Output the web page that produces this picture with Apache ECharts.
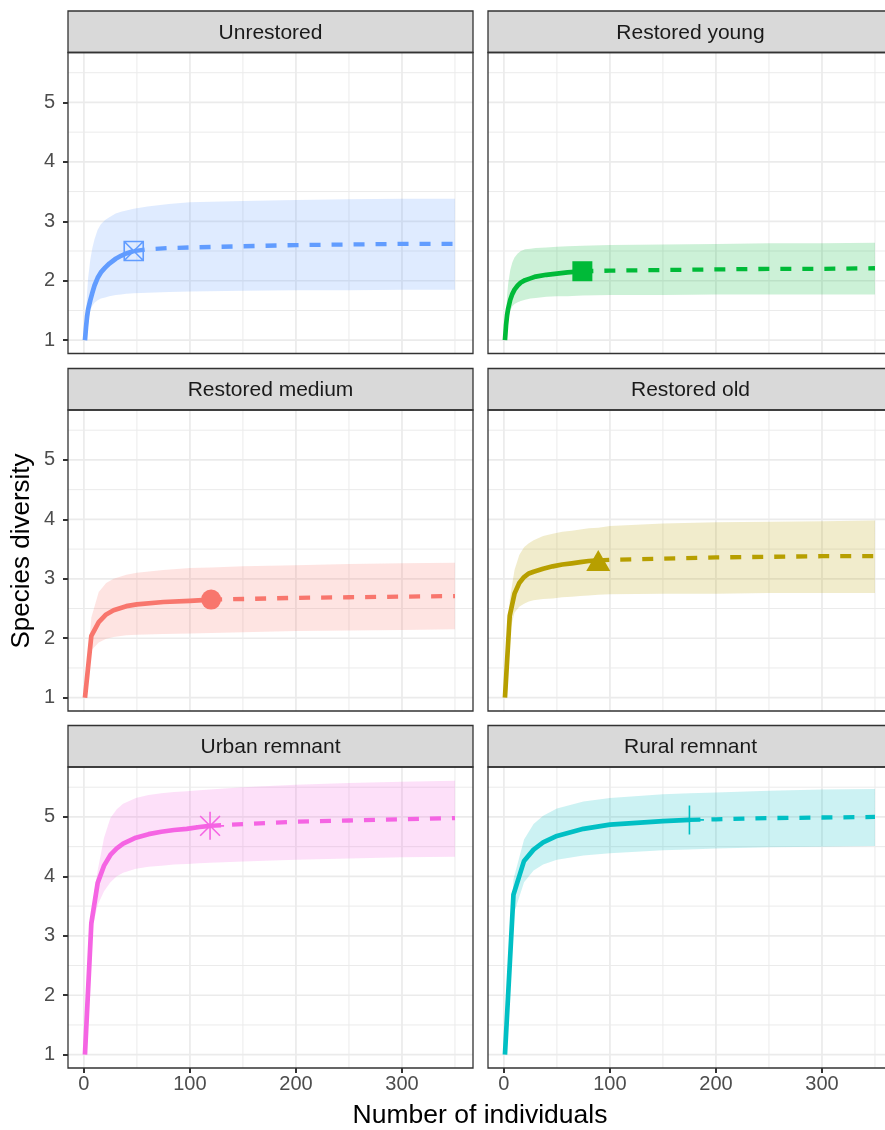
<!DOCTYPE html>
<html>
<head>
<meta charset="utf-8">
<script src="https://cdn.jsdelivr.net/npm/echarts@6/dist/echarts.min.js"></script>
<style>
html,body{margin:0;padding:0;background:#fff;overflow:hidden;}
#chart{width:900px;height:1130px;}
</style>
</head>
<body>
<div id="chart"></div>
<script>
// ---------- DATA ----------
const groupNames = ['Unrestored', 'Restored young', 'Restored medium', 'Restored old', 'Urban remnant', 'Rural remnant'];
const groupColors = ['#619CFF', '#00BA38', '#F8766D', '#B79F00', '#F564E3', '#00BFC4'];
const observedN = [47, 74, 120, 89, 119, 175];

// x: number of individuals; y: diversity estimate; lo/hi: confidence band
const unrestoredX  = [1, 2, 3, 4, 6, 8, 10, 13, 16, 20, 24, 30, 35, 40, 47, 60, 80, 100, 150, 200, 250, 300, 350];
const unrestoredY  = [1.00, 1.22, 1.40, 1.52, 1.67, 1.80, 1.92, 2.05, 2.14, 2.22, 2.29, 2.37, 2.42, 2.46, 2.50, 2.53, 2.55, 2.56, 2.58, 2.60, 2.61, 2.62, 2.62];
const unrestoredLo = [1.00, 1.05, 1.15, 1.28, 1.50, 1.58, 1.63, 1.67, 1.70, 1.72, 1.74, 1.76, 1.77, 1.78, 1.79, 1.80, 1.81, 1.82, 1.83, 1.84, 1.84, 1.85, 1.85];
const unrestoredHi = [1.00, 1.45, 1.80, 2.05, 2.35, 2.55, 2.70, 2.86, 2.95, 3.02, 3.07, 3.13, 3.16, 3.18, 3.21, 3.25, 3.29, 3.32, 3.34, 3.36, 3.37, 3.38, 3.38];

const youngX  = [1, 2, 3, 4, 6, 8, 10, 13, 16, 20, 25, 30, 40, 50, 60, 74, 100, 150, 200, 250, 300, 350];
const youngY  = [1.00, 1.25, 1.42, 1.53, 1.68, 1.78, 1.85, 1.92, 1.97, 2.01, 2.04, 2.07, 2.10, 2.12, 2.14, 2.16, 2.17, 2.18, 2.19, 2.20, 2.20, 2.21];
const youngLo = [1.00, 1.08, 1.20, 1.32, 1.50, 1.57, 1.61, 1.64, 1.66, 1.68, 1.70, 1.71, 1.73, 1.74, 1.74, 1.75, 1.76, 1.76, 1.77, 1.77, 1.77, 1.77];
const youngHi = [1.00, 1.45, 1.75, 1.95, 2.18, 2.31, 2.39, 2.46, 2.50, 2.53, 2.54, 2.55, 2.56, 2.57, 2.58, 2.59, 2.60, 2.61, 2.62, 2.63, 2.63, 2.64];

const mediumX  = [1, 7, 14, 21, 28, 40, 50, 75, 100, 120, 150, 200, 250, 300, 350];
const mediumY  = [1.00, 2.04, 2.27, 2.40, 2.47, 2.54, 2.57, 2.61, 2.63, 2.65, 2.66, 2.68, 2.69, 2.70, 2.71];
const mediumLo = [1.00, 1.80, 1.93, 1.99, 2.02, 2.05, 2.06, 2.07, 2.08, 2.09, 2.10, 2.12, 2.13, 2.14, 2.15];
const mediumHi = [1.00, 2.35, 2.78, 2.93, 3.00, 3.07, 3.10, 3.15, 3.18, 3.19, 3.21, 3.23, 3.25, 3.26, 3.27];

const oldX  = [1, 5.5, 10, 14.5, 19, 23.5, 28, 37, 46, 55, 64, 72, 80, 89, 100, 150, 200, 250, 300, 350];
const oldY  = [1.00, 2.38, 2.75, 2.93, 3.03, 3.09, 3.12, 3.17, 3.21, 3.24, 3.26, 3.28, 3.30, 3.31, 3.32, 3.34, 3.36, 3.37, 3.38, 3.38];
const oldLo = [1.00, 2.10, 2.43, 2.53, 2.58, 2.62, 2.64, 2.66, 2.67, 2.69, 2.70, 2.71, 2.72, 2.73, 2.74, 2.75, 2.75, 2.76, 2.76, 2.76];
const oldHi = [1.00, 2.65, 3.15, 3.40, 3.53, 3.60, 3.65, 3.72, 3.76, 3.79, 3.81, 3.83, 3.85, 3.86, 3.89, 3.93, 3.95, 3.96, 3.97, 3.98];

const urbanX  = [1, 7, 13, 19, 25, 31, 37, 49, 61, 73, 85, 97, 109, 119, 150, 200, 250, 300, 350];
const urbanY  = [1.00, 3.21, 3.89, 4.18, 4.36, 4.47, 4.55, 4.65, 4.71, 4.75, 4.78, 4.80, 4.83, 4.85, 4.88, 4.92, 4.94, 4.96, 4.98];
const urbanLo = [1.00, 3.05, 3.52, 3.75, 3.90, 4.00, 4.06, 4.13, 4.16, 4.18, 4.20, 4.21, 4.22, 4.23, 4.25, 4.28, 4.30, 4.32, 4.33];
const urbanHi = [1.00, 3.40, 4.10, 4.65, 4.98, 5.13, 5.22, 5.32, 5.37, 5.40, 5.42, 5.43, 5.45, 5.46, 5.50, 5.54, 5.57, 5.59, 5.61];

const ruralX  = [1, 9, 19, 28, 37, 50, 75, 100, 150, 175, 200, 250, 300, 350];
const ruralY  = [1.00, 3.69, 4.26, 4.45, 4.57, 4.68, 4.80, 4.87, 4.93, 4.95, 4.96, 4.98, 4.99, 5.00];
const ruralLo = [1.00, 3.35, 3.90, 4.10, 4.20, 4.28, 4.35, 4.39, 4.44, 4.45, 4.47, 4.49, 4.50, 4.51];
const ruralHi = [1.00, 3.95, 4.62, 4.88, 5.02, 5.14, 5.26, 5.32, 5.38, 5.40, 5.41, 5.44, 5.46, 5.47];

const xTickValues = [0, 100, 200, 300];
const xMinorValues = [50, 150, 250, 350];
const yTickValues = [1, 2, 3, 4, 5];
const yMinorValues = [1.5, 2.5, 3.5, 4.5, 5.5];

const xTitle = 'Number of individuals';
const yTitle = 'Species diversity';

// ---------- LAYOUT ----------
const X_MIN = -15, X_MAX = 367;
const Y_MIN = 0.776, Y_MAX = 5.84;
const FONT = '"Liberation Sans", Arial, Helvetica, sans-serif';
const PANEL_W = 405, PANEL_H = 301, STRIP_H = 41.5;
const panelLefts = [68, 488];
const panelTops = [52.5, 410, 767];

const groupData = [
  [unrestoredX, unrestoredY, unrestoredLo, unrestoredHi],
  [youngX, youngY, youngLo, youngHi],
  [mediumX, mediumY, mediumLo, mediumHi],
  [oldX, oldY, oldLo, oldHi],
  [urbanX, urbanY, urbanLo, urbanHi],
  [ruralX, ruralY, ruralLo, ruralHi]
];

const markerSpecs = [
  {symbol: 'path://M0,0L20,0L20,20L0,20ZM0,0L20,20M20,0L0,20', size: 19, fill: 'rgba(0,0,0,0)', stroke: true},
  {symbol: 'rect', size: 20, fill: null, stroke: false},
  {symbol: 'circle', size: 20, fill: null, stroke: false},
  {symbol: 'triangle', size: [24, 21], fill: null, stroke: false},
  {symbol: 'path://M14,0L14,28M0,14L28,14M4.1,4.1L23.9,23.9M23.9,4.1L4.1,23.9', size: 28, fill: 'rgba(0,0,0,0)', stroke: true},
  {symbol: 'path://M14,0L14,28M0,14L28,14', size: 29, fill: 'rgba(0,0,0,0)', stroke: true}
];

function hexA(hex, a) {
  const r = parseInt(hex.slice(1, 3), 16), g = parseInt(hex.slice(3, 5), 16), b = parseInt(hex.slice(5, 7), 16);
  return 'rgba(' + r + ',' + g + ',' + b + ',' + a + ')';
}

const grids = [], xAxes = [], yAxes = [], series = [], graphics = [];

groupNames.forEach(function (name, i) {
  const col = i % 2, row = Math.floor(i / 2);
  const left = panelLefts[col], top = panelTops[row];
  const color = groupColors[i];
  const [gx, gy, glo, ghi] = groupData[i];
  const N = observedN[i];

  grids.push({left: left, top: top, width: PANEL_W, height: PANEL_H, containLabel: false});

  const bottomRow = row === 2, leftCol = col === 0;
  xAxes.push({
    type: 'value', gridIndex: i, min: X_MIN, max: X_MAX, position: 'bottom',
    axisLine: {show: false, onZero: false},
    splitLine: {show: false},
    axisTick: {show: bottomRow, length: 5, inside: false, customValues: xTickValues, lineStyle: {color: '#333333', width: 2}},
    axisLabel: {show: bottomRow, customValues: xTickValues,
      color: '#4D4D4D', fontSize: 20, fontFamily: FONT, margin: 6}
  });
  yAxes.push({
    type: 'value', gridIndex: i, min: Y_MIN, max: Y_MAX, position: 'left',
    axisLine: {show: false, onZero: false},
    splitLine: {show: false},
    axisTick: {show: leftCol, length: 5, inside: false, customValues: yTickValues, lineStyle: {color: '#333333', width: 2}},
    axisLabel: {show: leftCol, customValues: yTickValues,
      color: '#4D4D4D', fontSize: 20, fontFamily: FONT, margin: 13}
  });

  // background grid lines drawn through the axis scales
  series.push({
    type: 'custom', xAxisIndex: i, yAxisIndex: i, z: 1, silent: true, clip: false,
    data: [[0, 1]], encode: {x: 0, y: 1},
    renderItem: function (params, api) {
      const ch = [];
      function vline(v, w) {
        const a = api.coord([v, Y_MIN]), b = api.coord([v, Y_MAX]);
        ch.push({type: 'line', shape: {x1: a[0], y1: a[1], x2: b[0], y2: b[1]}, style: {stroke: '#EBEBEB', lineWidth: w}});
      }
      function hline(v, w) {
        const a = api.coord([X_MIN, v]), b = api.coord([X_MAX, v]);
        ch.push({type: 'line', shape: {x1: a[0], y1: a[1], x2: b[0], y2: b[1]}, style: {stroke: '#EBEBEB', lineWidth: w}});
      }
      xMinorValues.forEach(function (v) { vline(v, 1.0); });
      yMinorValues.forEach(function (v) { hline(v, 1.0); });
      xTickValues.forEach(function (v) { vline(v, 1.7); });
      yTickValues.forEach(function (v) { hline(v, 1.7); });
      return {type: 'group', children: ch};
    }
  });

  // confidence band
  series.push({
    type: 'custom', xAxisIndex: i, yAxisIndex: i, z: 2, silent: true, clip: false,
    data: gx.map(function (x, k) { return [x, glo[k], ghi[k]]; }),
    encode: {x: 0, y: [1, 2]},
    renderItem: function (params, api) {
      if (params.dataIndex !== 0) return null;
      const pts = [];
      for (let k = 0; k < gx.length; k++) pts.push(api.coord([gx[k], ghi[k]]));
      for (let k = gx.length - 1; k >= 0; k--) pts.push(api.coord([gx[k], glo[k]]));
      return {type: 'polygon', shape: {points: pts}, style: {fill: hexA(color, 0.2), stroke: null}};
    }
  });

  const rare = [], extra = [];
  gx.forEach(function (x, k) {
    if (x <= N) rare.push([x, gy[k]]);
    if (x >= N) extra.push([x, gy[k]]);
  });

  series.push({
    type: 'line', xAxisIndex: i, yAxisIndex: i, z: 3, data: rare, showSymbol: false, silent: true,
    lineStyle: {color: color, width: 4.7, cap: 'butt', join: 'round'}, animation: false
  });
  series.push({
    type: 'line', xAxisIndex: i, yAxisIndex: i, z: 3, data: extra, showSymbol: false, silent: true,
    lineStyle: {color: color, width: 4.3, type: [11, 11], cap: 'butt', join: 'round'}, animation: false
  });

  const ms = markerSpecs[i];
  const obsIdx = gx.indexOf(N);
  series.push({
    type: 'scatter', xAxisIndex: i, yAxisIndex: i, z: 4, silent: true,
    data: [[N, gy[obsIdx]]],
    symbol: ms.symbol, symbolSize: ms.size,
    itemStyle: ms.stroke
      ? {color: ms.fill, borderColor: color, borderWidth: 1.6, opacity: 1}
      : {color: color, opacity: 1}
  });

  // strip header
  graphics.push({
    type: 'rect', z: 50,
    shape: {x: left, y: top - STRIP_H, width: PANEL_W, height: STRIP_H},
    style: {fill: '#D9D9D9', stroke: '#333333', lineWidth: 1.3}
  });
  graphics.push({
    type: 'text', z: 51,
    x: left + PANEL_W / 2, y: top - STRIP_H / 2 + 1,
    style: {text: name, fill: '#1A1A1A', fontSize: 21, fontFamily: FONT, align: 'center', verticalAlign: 'middle'}
  });
  // panel border
  graphics.push({
    type: 'rect', z: 60,
    shape: {x: left, y: top, width: PANEL_W, height: PANEL_H},
    style: {fill: null, stroke: '#333333', lineWidth: 1.3}
  });
});

graphics.push({
  type: 'text', z: 50, x: 480, y: 1116,
  style: {text: xTitle, fill: '#000000', fontSize: 26.5, fontFamily: FONT, align: 'center', verticalAlign: 'middle'}
});
graphics.push({
  type: 'text', z: 50, x: 22, y: 551, rotation: Math.PI / 2,
  style: {text: yTitle, fill: '#000000', fontSize: 26, fontFamily: FONT, align: 'center', verticalAlign: 'middle'}
});

const chart = echarts.init(document.getElementById('chart'), null, {renderer: 'canvas'});
chart.setOption({
  backgroundColor: '#FFFFFF',
  animation: false,
  grid: grids,
  xAxis: xAxes,
  yAxis: yAxes,
  series: series,
  graphic: {elements: graphics}
});
</script>
</body>
</html>
